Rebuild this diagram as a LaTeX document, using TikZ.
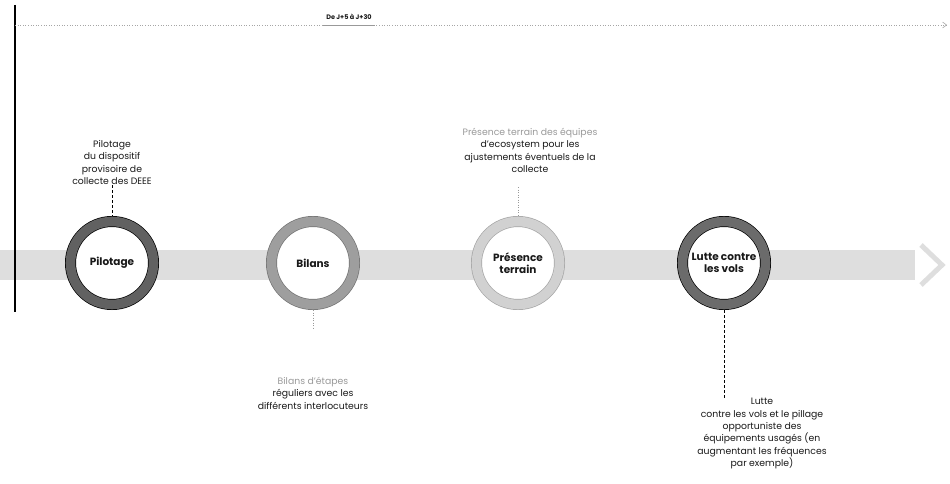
\documentclass[tikz,border=0pt]{standalone}
\usepackage{fontspec}
\setmainfont{Poppins}
\usetikzlibrary{arrows.meta}
\definecolor{bandc}{gray}{0.87}
\definecolor{txt}{gray}{0.1}
\definecolor{faint}{gray}{0.6}
\begin{document}
\begin{tikzpicture}[x=1pt,y=-1pt,
  ring/.style 2 args={circle, draw=#2, line width=0.7pt, double=#1, double distance=9.6pt,
     fill=white, minimum size=83pt, inner sep=0pt, outer sep=5.5pt,
     font=\fontsize{10.5}{12}\selectfont\bfseries, text=txt, align=center},
  desc/.style={align=center, text=txt, font=\fontsize{9.3}{12.4}\selectfont, inner sep=0pt},
  conn/.style={draw=black, line width=0.5pt, densely dashed},
  fconn/.style={draw=faint, line width=0.5pt, dotted}]
\useasboundingbox (0,0) rectangle (950,484);
% band
\fill[bandc] (0,250) rectangle (915,280);
\draw[bandc, line width=5pt, line join=miter] (921,245) -- (942,265) -- (921,285);
% vertical marker
\draw[black, line width=1.2pt] (15,5) -- (15,312);
% top timeline
\coordinate (tl0) at (15,25);
\coordinate (tl1) at (947,25);
\draw[gray!70, line width=0.6pt, dotted, -{Straight Barb[length=4pt,width=6pt]}] (tl0) -- (tl1);
\node[font=\fontsize{6.5}{7}\selectfont\bfseries, text=txt] (title) at (349,17) {De J+5 à J+30};
\draw[gray!80, line width=0.8pt] (title.south west |- tl0) -- (title.south east |- tl0);
% rings
\node[ring={black!62}{black}] (pil) at (112,263) {Pilotage};
\node[ring={black!38}{black!55}] (bil) at (313,263) {Bilans};
\node[ring={black!18}{black!35}] (pre) at (518,263) {Présence\\terrain};
\node[ring={black!58}{black}] (lut) at (724,263) {Lutte contre\\les vols};
% texts
\node[desc, anchor=south] (tpil) at (112,185) {Pilotage\\du dispositif\\provisoire de\\collecte des DEEE};
\node[desc, anchor=south] (tpre) at (530,173) {\textcolor{faint}{Présence terrain des équipes}\\d’ecosystem pour les\\ajustements éventuels de la\\collecte};
\node[desc, anchor=north] (tbil) at (313,377) {\textcolor{faint}{Bilans d’étapes}\\réguliers avec les\\différents interlocuteurs};
\node[desc, anchor=north] (tlut) at (762,398) {Lutte\\contre les vols et le pillage\\opportuniste des\\équipements usagés (en\\augmentant les fréquences\\par exemple)};
% connectors
\draw[conn] (tpil.south) -- (pil.north);
\draw[fconn] (pre.north |- tpre.south) ++(0,14) -- (pre.north);
\draw[fconn] (bil.south) -- ++(0,18);
\draw[conn] (lut.south) -- (lut.south |- tlut.north);
\end{tikzpicture}
\end{document}
